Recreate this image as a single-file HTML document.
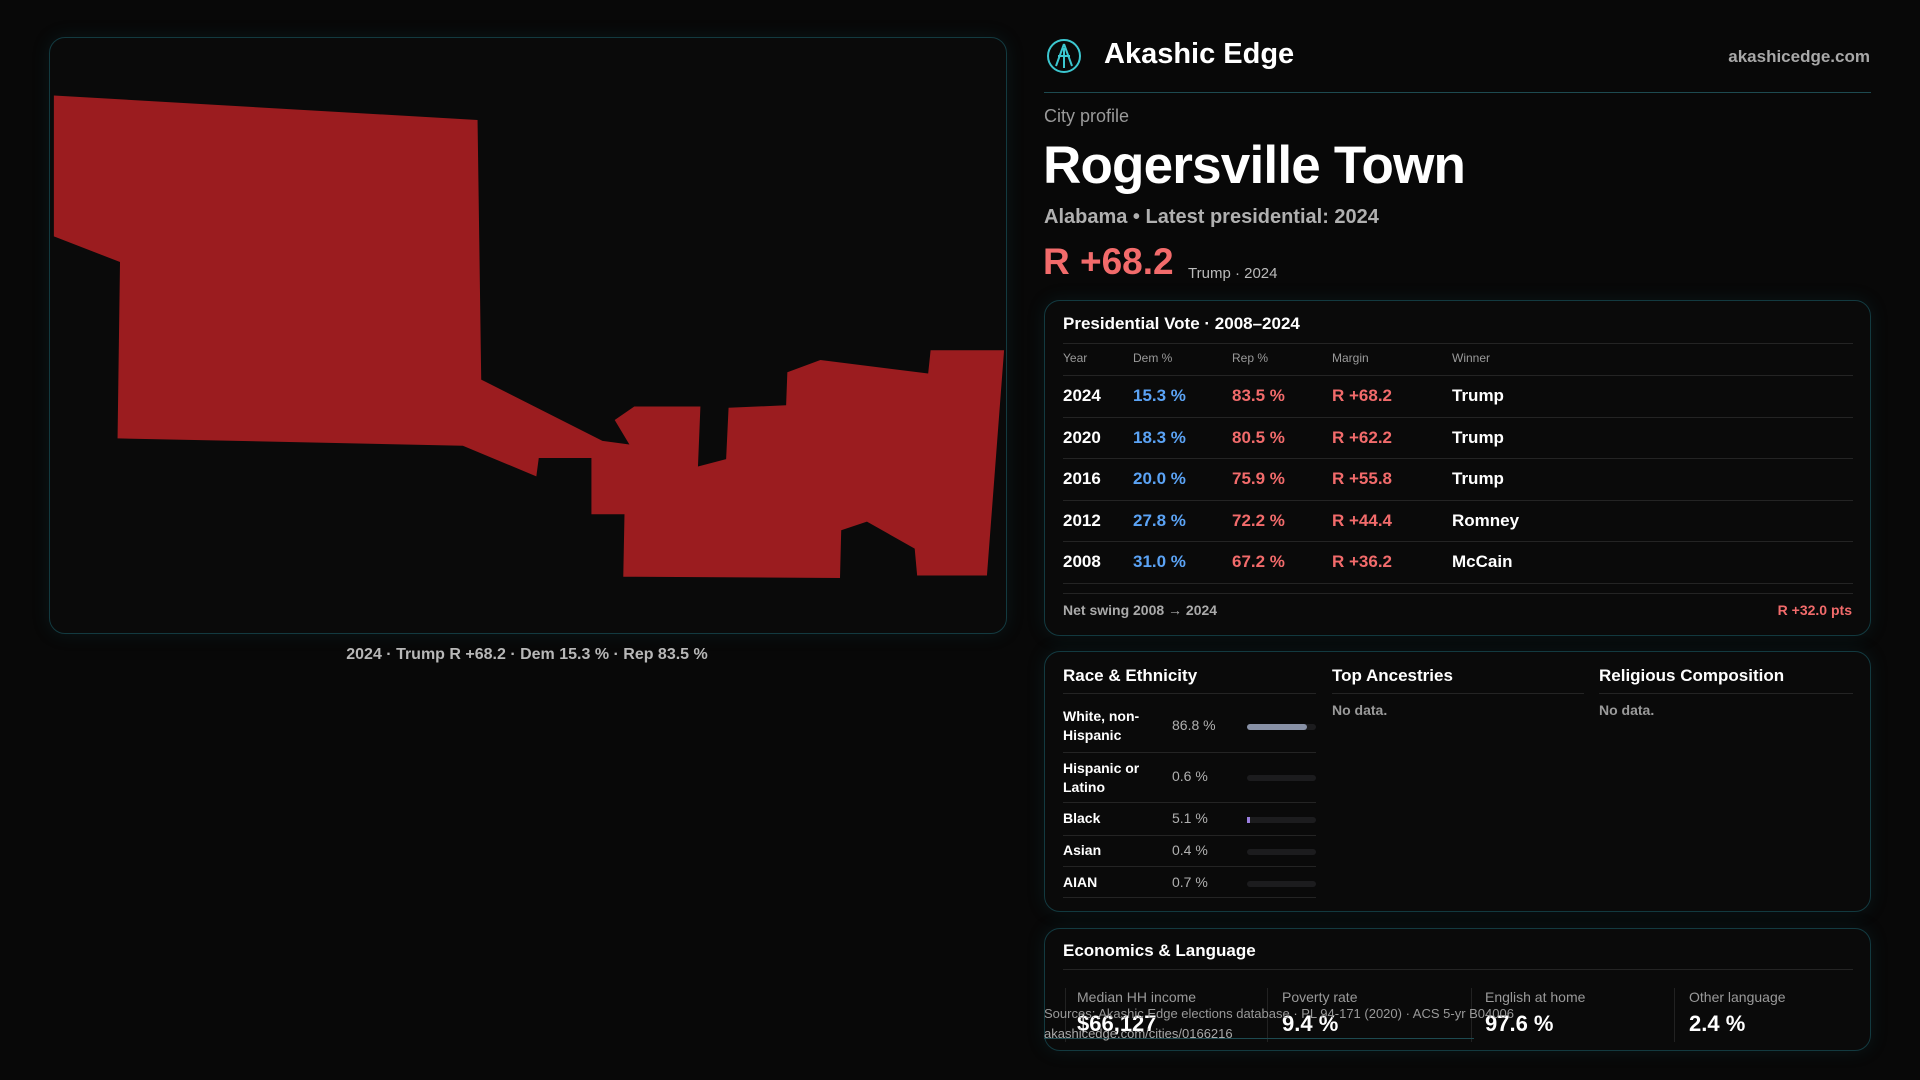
<!DOCTYPE html>
<html><head><meta charset="utf-8"><style>
*{margin:0;padding:0;box-sizing:border-box}
body{width:1920px;height:1080px;background:#080808;font-family:"Liberation Sans",sans-serif;color:#fff;position:relative;overflow:hidden}
.a{position:absolute;white-space:nowrap}
.panel{position:absolute;border:1px solid #133a40;border-radius:16px;background:#0a0a0a;box-shadow:0 0 18px rgba(20,90,100,.18)}
.hl{position:absolute;height:1px;background:#242424}
.b{color:#5ba3f5}.r{color:#f26b6b}.g{color:#9a9a9a}
.bar{position:absolute;height:6px;border-radius:3px;background:#1c1c1e;width:69px;left:1247px}
</style></head><body>
<div class="panel" style="left:49px;top:37px;width:958px;height:597px"></div>
<svg class="a" style="left:0;top:0" width="1920" height="1080" viewBox="0 0 1568 882">
<polygon fill="#9b1c1f" points="44,78 390,98 393,310 492,360 514,363 502,343 518,332 572,332 570,381 593,375 595,333 642,331 643,304 670,294 758,305 760,286 820,286 806,470 749,470 747,448 708,426 687,433 686,472 509,471 510,420 483,420 483,374 440,374 438,389 378,364 96,358 98,214 44,193"/>
</svg>
<div class="a" style="left:0;width:1054px;text-align:center;top:646px;font-size:16px;color:#b8b8b8;font-weight:bold">2024 · Trump R +68.2 · Dem 15.3 % · Rep 83.5 %</div>

<svg class="a" style="left:1046px;top:38px" width="36" height="36" viewBox="0 0 36 36"><circle cx="18" cy="18" r="16" fill="none" stroke="#3cc7d0" stroke-width="2"/><path d="M18 6 L10 28 M18 6 L26 28 M12 18 H24 M18 10 V30" stroke="#3cc7d0" stroke-width="2" fill="none"/></svg>
<div class="a" style="left:1104px;top:38px;font-size:29px;font-weight:bold">Akashic Edge</div>
<div class="a" style="right:50px;top:47px;font-size:17px;color:#a8a8a8;font-weight:bold">akashicedge.com</div>
<div class="hl" style="left:1044px;width:827px;top:92px;background:#1d4a50"></div>
<div class="a g" style="left:1044px;top:106px;font-size:18px">City profile</div>
<div class="a" style="left:1043px;top:135px;font-size:53px;font-weight:bold;letter-spacing:-0.8px">Rogersville Town</div>
<div class="a" style="left:1044px;top:206px;font-size:20px;color:#b0b0b0;font-weight:bold">Alabama • Latest presidential: 2024</div>
<div class="a r" style="left:1043px;top:241px;font-size:37px;font-weight:bold">R +68.2</div>
<div class="a" style="left:1188px;top:265px;font-size:15px;color:#bbb">Trump · 2024</div>

<div class="panel" style="left:1044px;top:300px;width:827px;height:336px"></div>
<div class="a" style="left:1063px;top:314px;font-size:17px;font-weight:bold">Presidential Vote · 2008–2024</div>
<div class="hl" style="left:1063px;width:790px;top:343px"></div>
<div class="a g" style="left:1063px;top:351px;font-size:12px">Year</div>
<div class="a g" style="left:1133px;top:351px;font-size:12px">Dem %</div>
<div class="a g" style="left:1232px;top:351px;font-size:12px">Rep %</div>
<div class="a g" style="left:1332px;top:351px;font-size:12px">Margin</div>
<div class="a g" style="left:1452px;top:351px;font-size:12px">Winner</div>
<div class="hl" style="left:1063px;width:790px;top:375px"></div>
<div class="hl" style="left:1063px;width:790px;top:417px"></div>
<div class="hl" style="left:1063px;width:790px;top:458px"></div>
<div class="hl" style="left:1063px;width:790px;top:500px"></div>
<div class="hl" style="left:1063px;width:790px;top:541px"></div>
<div class="hl" style="left:1063px;width:790px;top:583px"></div>
<div class="hl" style="left:1063px;width:790px;top:593px"></div>
<div style="position:absolute;left:1063px;top:375px;font-size:17px;font-weight:bold;line-height:41.6px">
<div style="position:relative;height:41.6px"><span class="a" style="left:0">2024</span><span class="a b" style="left:70px">15.3 %</span><span class="a r" style="left:169px">83.5 %</span><span class="a r" style="left:269px">R +68.2</span><span class="a" style="left:389px">Trump</span></div>
<div style="position:relative;height:41.6px"><span class="a" style="left:0">2020</span><span class="a b" style="left:70px">18.3 %</span><span class="a r" style="left:169px">80.5 %</span><span class="a r" style="left:269px">R +62.2</span><span class="a" style="left:389px">Trump</span></div>
<div style="position:relative;height:41.6px"><span class="a" style="left:0">2016</span><span class="a b" style="left:70px">20.0 %</span><span class="a r" style="left:169px">75.9 %</span><span class="a r" style="left:269px">R +55.8</span><span class="a" style="left:389px">Trump</span></div>
<div style="position:relative;height:41.6px"><span class="a" style="left:0">2012</span><span class="a b" style="left:70px">27.8 %</span><span class="a r" style="left:169px">72.2 %</span><span class="a r" style="left:269px">R +44.4</span><span class="a" style="left:389px">Romney</span></div>
<div style="position:relative;height:41.6px"><span class="a" style="left:0">2008</span><span class="a b" style="left:70px">31.0 %</span><span class="a r" style="left:169px">67.2 %</span><span class="a r" style="left:269px">R +36.2</span><span class="a" style="left:389px">McCain</span></div>
</div>
<div class="a" style="left:1063px;top:602px;font-size:14px;color:#aaa;font-weight:bold">Net swing 2008 → 2024</div>
<div class="a r" style="right:68px;top:602px;font-size:14px;font-weight:bold">R +32.0 pts</div>

<div class="panel" style="left:1044px;top:651px;width:827px;height:261px"></div>
<div class="a" style="left:1063px;top:666px;font-size:17px;font-weight:bold">Race &amp; Ethnicity</div>
<div class="a" style="left:1332px;top:666px;font-size:17px;font-weight:bold">Top Ancestries</div>
<div class="a" style="left:1599px;top:666px;font-size:17px;font-weight:bold">Religious Composition</div>
<div class="hl" style="left:1063px;width:253px;top:693px"></div>
<div class="hl" style="left:1332px;width:252px;top:693px"></div>
<div class="hl" style="left:1599px;width:254px;top:693px"></div>
<div class="a g" style="left:1332px;top:702px;font-size:14px;font-weight:bold">No data.</div>
<div class="a g" style="left:1599px;top:702px;font-size:14px;font-weight:bold">No data.</div>
<div style="font-size:14px;font-weight:bold">
<div class="a" style="left:1063px;top:707px;line-height:19px">White, non-<br>Hispanic</div>
<div class="a" style="left:1063px;top:759px;line-height:19px">Hispanic or<br>Latino</div>
<div class="a" style="left:1063px;top:810px">Black</div>
<div class="a" style="left:1063px;top:842px">Asian</div>
<div class="a" style="left:1063px;top:874px">AIAN</div>
</div>
<div style="font-size:14px;color:#b0b0b0">
<div class="a" style="left:1172px;top:717px">86.8 %</div>
<div class="a" style="left:1172px;top:768px">0.6 %</div>
<div class="a" style="left:1172px;top:810px">5.1 %</div>
<div class="a" style="left:1172px;top:842px">0.4 %</div>
<div class="a" style="left:1172px;top:874px">0.7 %</div>
</div>
<div class="bar" style="top:724px"><div style="width:60px;height:6px;border-radius:3px;background:#8891a6"></div></div>
<div class="bar" style="top:775px"></div>
<div class="bar" style="top:817px"><div style="width:3px;height:6px;background:#9a7ee0"></div></div>
<div class="bar" style="top:849px"></div>
<div class="bar" style="top:881px"></div>
<div class="hl" style="left:1063px;width:253px;top:752px"></div>
<div class="hl" style="left:1063px;width:253px;top:802px"></div>
<div class="hl" style="left:1063px;width:253px;top:835px"></div>
<div class="hl" style="left:1063px;width:253px;top:866px"></div>
<div class="hl" style="left:1063px;width:253px;top:897px"></div>

<div class="panel" style="left:1044px;top:928px;width:827px;height:123px"></div>
<div class="a" style="left:1063px;top:941px;font-size:17px;font-weight:bold">Economics &amp; Language</div>
<div class="hl" style="left:1063px;width:790px;top:969px"></div>
<div class="a" style="left:1065px;top:988px;width:1px;height:54px;background:#222"></div>
<div class="a" style="left:1267px;top:988px;width:1px;height:54px;background:#222"></div>
<div class="a" style="left:1471px;top:988px;width:1px;height:54px;background:#222"></div>
<div class="a" style="left:1674px;top:988px;width:1px;height:54px;background:#222"></div>
<div class="a g" style="left:1077px;top:989px;font-size:14px">Median HH income</div>
<div class="a g" style="left:1282px;top:989px;font-size:14px">Poverty rate</div>
<div class="a g" style="left:1485px;top:989px;font-size:14px">English at home</div>
<div class="a g" style="left:1689px;top:989px;font-size:14px">Other language</div>
<div class="a" style="left:1077px;top:1011px;font-size:22px;font-weight:bold">$66,127</div>
<div class="a" style="left:1282px;top:1011px;font-size:22px;font-weight:bold">9.4 %</div>
<div class="a" style="left:1485px;top:1011px;font-size:22px;font-weight:bold">97.6 %</div>
<div class="a" style="left:1689px;top:1011px;font-size:22px;font-weight:bold">2.4 %</div>
<div class="hl" style="left:1044px;width:430px;top:1038px;background:#1d4a50"></div>
<div class="a" style="left:1044px;top:1006px;font-size:13px;color:#999">Sources: Akashic Edge elections database · PL 94-171 (2020) · ACS 5-yr B04006</div>
<div class="a" style="left:1044px;top:1026px;font-size:13px;color:#aaa">akashicedge.com/cities/0166216</div>
</body></html>
